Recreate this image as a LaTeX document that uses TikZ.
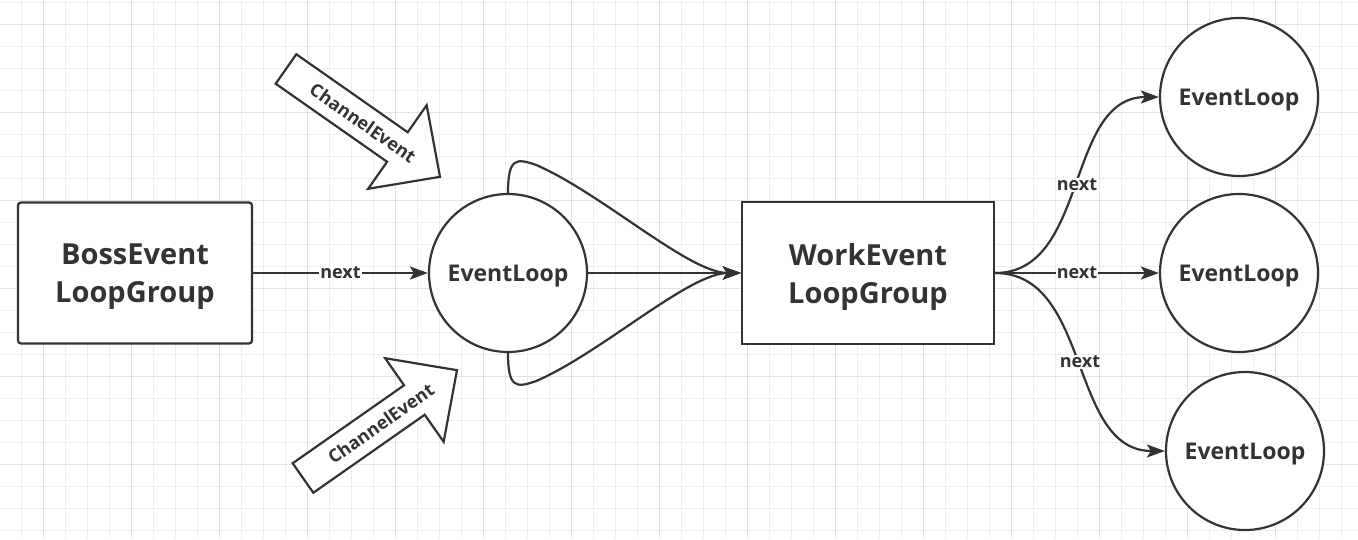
\documentclass[tikz,border=0pt]{standalone}
\usepackage{fontspec}
\setsansfont{Open Sans}
\usetikzlibrary{arrows.meta}
\definecolor{ink}{HTML}{333333}
\definecolor{gridminor}{HTML}{EEEEEE}
\definecolor{gridmajor}{HTML}{E2E2E2}
\tikzset{
  grp/.style={draw=ink, line width=2.2pt, fill=white, minimum width=234pt,
    minimum height=141pt, align=center, text=ink, text depth=0pt,
    font=\sffamily\bfseries\fontsize{29}{38}\selectfont},
  evloop/.style={circle, draw=ink, line width=2.2pt, fill=white,
    minimum size=158pt, inner sep=0pt, text=ink, text depth=0pt,
    font=\sffamily\bfseries\fontsize{23}{27}\selectfont},
  flow/.style={draw=ink, line width=2.2pt,
    -{Stealth[length=18pt,width=13pt,inset=4pt]}},
  lbl/.style={fill=white, inner sep=1pt, text=ink,
    font=\sffamily\bfseries\fontsize{18}{20}\selectfont},
  bigarrow/.style={draw=ink, line width=2.2pt, fill=white, line join=miter},
  arrowtext/.style={text=ink, font=\sffamily\bfseries\fontsize{18}{20}\selectfont}
}
\begin{document}
\begin{tikzpicture}[x=1pt,y=-1pt]
  % background and grid
  \fill[white] (0,0) rectangle (1358,539);
  \useasboundingbox (0,0) rectangle (1358,539);
  \foreach \i in {0,...,61}
    \draw[gridminor, line width=1pt] ({21+22*\i},0) -- ({21+22*\i},539);
  \foreach \j in {0,...,24}
    \draw[gridminor, line width=1pt] (0,{2+22*\j}) -- (1358,{2+22*\j});
  \foreach \i in {0,...,15}
    \draw[gridmajor, line width=1pt] ({43+88*\i},0) -- ({43+88*\i},539);
  \foreach \j in {0,...,6}
    \draw[gridmajor, line width=1pt] (0,{24+88*\j}) -- (1358,{24+88*\j});
  % groups and loops
  \node[grp, rounded corners=3pt] (boss) at (135,273) {BossEvent\\LoopGroup};
  \node[evloop] (el) at (508,273) {EventLoop};
  \node[grp, minimum width=252pt, minimum height=142pt] (work) at (868,273) {WorkEvent\\LoopGroup};
  \node[evloop] (w1) at (1239,97) {EventLoop};
  \node[evloop] (w2) at (1239,273) {EventLoop};
  \node[evloop] (w3) at (1245,451) {EventLoop};
  % boss to event loop
  \draw[flow] (boss) -- node[lbl]{next} (el);
  % event loop to work group, three ways
  \draw[flow] (el) -- (work);
  \draw[flow] (el.north) .. controls +(0,-35) and +(-20,-7) .. ++(28,-28)
      .. controls +(65,28) and +(-52,0) .. (work.west);
  \draw[flow] (el.south) .. controls +(0,35) and +(-20,7) .. ++(28,28)
      .. controls +(65,-28) and +(-52,0) .. (work.west);
  % work group to its event loops
  \draw[flow] (work.east) to[out=0,in=180] node[lbl]{next} (w1.west);
  \draw[flow] (work.east) -- node[lbl]{next} (w2.west);
  \draw[flow] (work.east) to[out=0,in=180] node[lbl]{next} (w3.west);
  % channel events
  \begin{scope}[shift={(286,69)}, rotate=-35]
    \draw[bigarrow] (0,-18) -- (136,-18) -- (136,-51) -- (188,0)
      -- (136,51) -- (136,18) -- (0,18) -- cycle;
    \node[arrowtext, rotate=-35] (ce1) at (94,0) {ChannelEvent};
  \end{scope}
  \begin{scope}[shift={(303,478)}, rotate=35]
    \draw[bigarrow] (0,-18) -- (136,-18) -- (136,-51) -- (188,0)
      -- (136,51) -- (136,18) -- (0,18) -- cycle;
    \node[arrowtext, rotate=35] (ce2) at (95,0) {ChannelEvent};
  \end{scope}
\end{tikzpicture}
\end{document}
